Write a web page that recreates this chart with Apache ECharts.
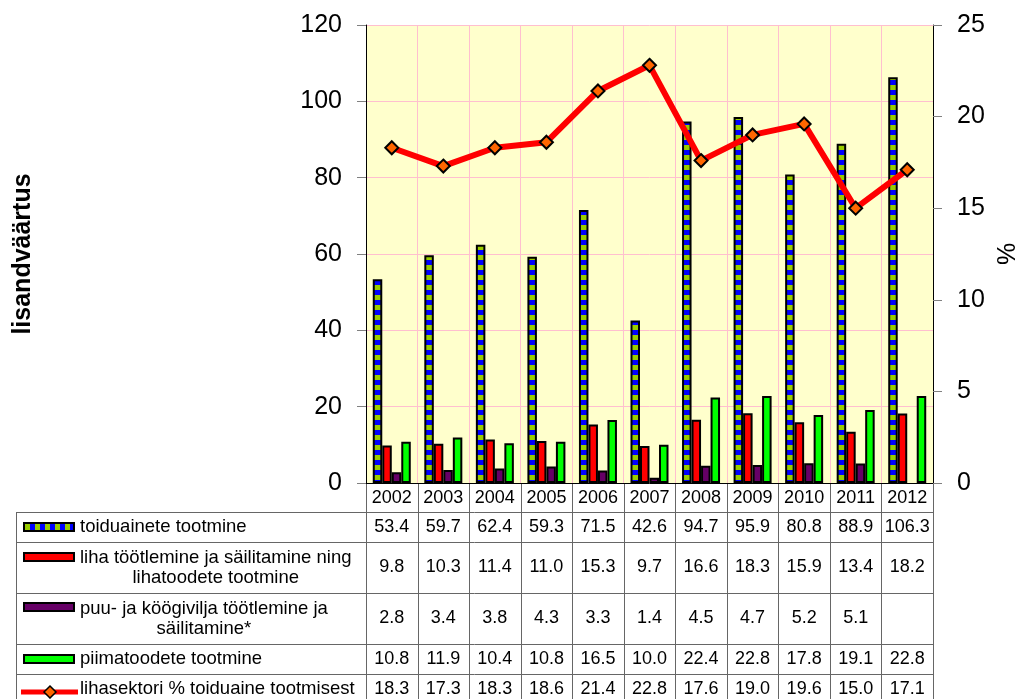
<!DOCTYPE html>
<html>
<head>
<meta charset="utf-8">
<script src="https://cdn.jsdelivr.net/npm/echarts@6/dist/echarts.min.js"></script>
<style>
html,body{margin:0;padding:0;background:#fff;}
#chart{width:1020px;height:699px;}
</style>
</head>
<body>
<div id="chart"></div>
<script>
// andmed
var years = ['2002','2003','2004','2005','2006','2007','2008','2009','2010','2011','2012'];
var toiduainete = [53.4, 59.7, 62.4, 59.3, 71.5, 42.6, 94.7, 95.9, 80.8, 88.9, 106.3];
var liha = [9.8, 10.3, 11.4, 11.0, 15.3, 9.7, 16.6, 18.3, 15.9, 13.4, 18.2];
var puu = [2.8, 3.4, 3.8, 4.3, 3.3, 1.4, 4.5, 4.7, 5.2, 5.1, null];
var piima = [10.8, 11.9, 10.4, 10.8, 16.5, 10.0, 22.4, 22.8, 17.8, 19.1, 22.8];
var lihasektor = [18.3, 17.3, 18.3, 18.6, 21.4, 22.8, 17.6, 19.0, 19.6, 15.0, 17.1];
var names = ['toiduainete tootmine', 'liha töötlemine ja säilitamine ning\nlihatoodete tootmine',
    'puu- ja köögivilja töötlemine ja\nsäilitamine*', 'piimatoodete tootmine', 'lihasektori % toiduaine tootmisest'];

var FONT = "'Liberation Sans', Arial, sans-serif";

// ruuduline muster (sinine / kollakasroheline)
function makePattern(vertical){
    var c = document.createElement('canvas');
    c.width = 10; c.height = 10;
    var ctx = c.getContext('2d');
    ctx.fillStyle = '#99CC00';
    ctx.fillRect(0, 0, 10, 10);
    ctx.fillStyle = '#0000FF';
    if(vertical){
        ctx.fillRect(0, 0, 10, 5);
    }else{
        ctx.fillRect(0, 0, 5, 10);
    }
    return c;
}
var barPattern = {image: makePattern(true), repeat: 'repeat'};
var keyPattern = {image: makePattern(false), repeat: 'repeat'};

var myChart = echarts.init(document.getElementById('chart'));
var barBase = {type: 'bar', barWidth: 9.5, barGap: '0%', barCategoryGap: '26%'};
function bar(name, data, color){
    return Object.assign({}, barBase, {
        name: name, data: data,
        itemStyle: {color: color, borderColor: '#000', borderWidth: 2}
    });
}
var option = {
    animation: false,
    textStyle: {fontFamily: FONT},
    grid: {left: 366, right: 87, top: 25, bottom: 216, show: true, backgroundColor: '#FFFFCC', borderWidth: 0,
        containLabel: false, outerBoundsMode: 'none'},
    xAxis: {
        type: 'category',
        data: years,
        axisLine: {lineStyle: {color: '#000', width: 1}},
        axisTick: {show: false},
        axisLabel: {fontSize: 18, color: '#000', margin: 6, interval: 0, fontFamily: FONT},
        splitLine: {show: true, interval: 0, lineStyle: {color: '#FFBFCF', width: 1}}
    },
    yAxis: [{
        type: 'value', min: 0, max: 120, interval: 20,
        axisLine: {show: true, lineStyle: {color: '#000'}},
        axisTick: {show: true, length: 9, lineStyle: {color: '#808080'}},
        axisLabel: {fontSize: 25, color: '#000', margin: 24, fontFamily: FONT},
        splitLine: {lineStyle: {color: '#FFBFCF', width: 1}},
        name: 'lisandväärtus', nameLocation: 'middle', nameGap: 330, nameRotate: 90,
        nameTextStyle: {fontSize: 25, fontWeight: 'bold', color: '#000', fontFamily: FONT}
    }, {
        type: 'value', min: 0, max: 25, interval: 5, position: 'right',
        axisLine: {show: true, lineStyle: {color: '#000'}},
        axisTick: {show: true, length: 9, lineStyle: {color: '#808080'}},
        axisLabel: {fontSize: 25, color: '#000', margin: 24, fontFamily: FONT},
        splitLine: {show: false},
        name: '%', nameLocation: 'middle', nameGap: 62, nameRotate: 90,
        nameTextStyle: {fontSize: 25, color: '#000', fontFamily: FONT}
    }],
    series: [
        bar(names[0], toiduainete, barPattern),
        bar(names[1], liha, '#FF0000'),
        bar(names[2], puu, '#660066'),
        bar(names[3], piima, '#00FF00'),
        {
            name: names[4], type: 'line', yAxisIndex: 1, data: lihasektor, z: 10,
            lineStyle: {color: '#FF0000', width: 6},
            symbol: 'diamond', symbolSize: 13,
            itemStyle: {color: '#FF6600', borderColor: '#000', borderWidth: 2}
        }
    ]
};
myChart.setOption(option);

// andmetabel graafiku all
function buildTable(){
    var rowTops = [512, 542, 593, 644, 674, 704];
    var keyY = [527, 557, 607, 659, 692];
    var tableLeft = 16, textX = 80;
    var x0 = myChart.convertToPixel({xAxisIndex: 0}, 0);
    var x1 = myChart.convertToPixel({xAxisIndex: 0}, 1);
    var cw = x1 - x0;
    var plotLeft = x0 - cw / 2, plotRight = plotLeft + cw * years.length;
    var axisY = 483, bottom = 699;
    var lineColor = '#666';
    var g = [];
    function hline(xa, xb, y){
        g.push({type: 'line', silent: true, shape: {x1: xa, y1: Math.round(y) + 0.5, x2: xb, y2: Math.round(y) + 0.5},
            style: {stroke: lineColor, lineWidth: 1}});
    }
    function vline(x, ya, yb){
        g.push({type: 'line', silent: true, shape: {x1: Math.round(x) + 0.5, y1: ya, x2: Math.round(x) + 0.5, y2: yb},
            style: {stroke: lineColor, lineWidth: 1}});
    }
    for(var r = 0; r < rowTops.length; r++){
        hline(tableLeft, plotRight, rowTops[r]);
    }
    vline(tableLeft, rowTops[0], bottom);
    for(var i = 0; i <= years.length; i++){
        vline(plotLeft + i * cw, axisY, bottom);
    }
    var seriesData = [toiduainete, liha, puu, piima, lihasektor];
    var measure = document.createElement('canvas').getContext('2d');
    measure.font = '18.5px ' + FONT;
    for(var s = 0; s < seriesData.length; s++){
        var cy = (rowTops[s] + rowTops[s + 1]) / 2;
        // numbrid
        for(var j = 0; j < years.length; j++){
            var v = seriesData[s][j];
            if(v == null) continue;
            g.push({type: 'text', silent: true, style: {
                text: v.toFixed(1), x: plotLeft + (j + 0.5) * cw, y: cy,
                fill: '#000', font: '18px ' + FONT, textAlign: 'center', textVerticalAlign: 'middle'}});
        }
        // sildid
        var lines = names[s].split('\n');
        var w = 0;
        for(var k = 0; k < lines.length; k++){
            w = Math.max(w, measure.measureText(lines[k]).width);
        }
        g.push({type: 'text', silent: true, style: {
            text: names[s], x: textX + w / 2, y: cy, lineHeight: 20,
            fill: '#000', font: '18.5px ' + FONT, textAlign: 'center', textVerticalAlign: 'middle'}});
        // legendi võtmed
        if(s < 4){
            var fill = [keyPattern, '#FF0000', '#660066', '#00FF00'][s];
            g.push({type: 'rect', silent: true, shape: {x: 24, y: keyY[s] - 4, width: 50, height: 8},
                style: {fill: fill, stroke: '#000', lineWidth: 2}});
        }else{
            g.push({type: 'line', silent: true, shape: {x1: 21, y1: keyY[s], x2: 78, y2: keyY[s]},
                style: {stroke: '#FF0000', lineWidth: 5}});
            g.push({type: 'polygon', silent: true,
                shape: {points: [[50, keyY[s] - 6], [56, keyY[s]], [50, keyY[s] + 6], [44, keyY[s]]]},
                style: {fill: '#FF6600', stroke: '#000', lineWidth: 1.5}});
        }
    }
    myChart.setOption({graphic: g});
}
buildTable();
</script>
</body>
</html>
